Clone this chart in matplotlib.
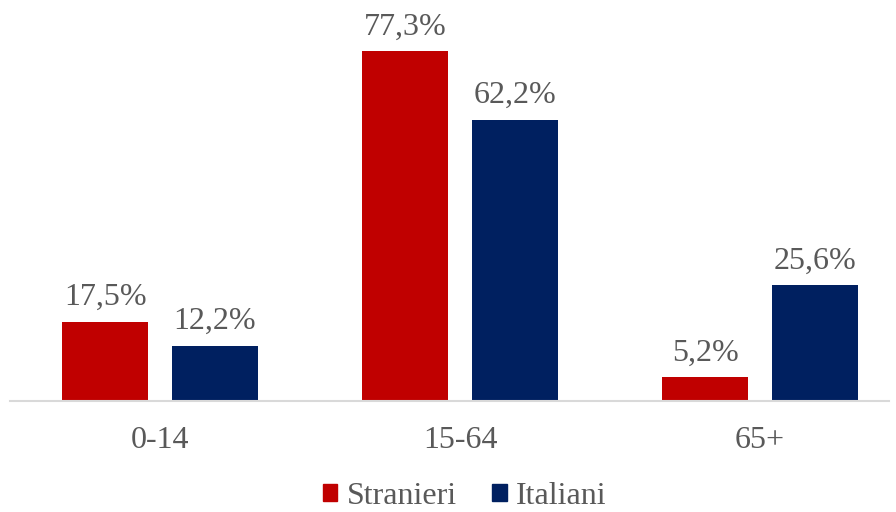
import numpy as np
import matplotlib.pyplot as plt
from matplotlib.patches import Patch

categorie = ['0-14', '15-64', '65+']
stranieri = [17.5, 77.3, 5.2]
italiani = [12.2, 62.2, 25.6]
serie = ['Stranieri', 'Italiani']

rosso = '#C00000'
blu = '#002060'
grigio = '#595959'

plt.rcParams['font.family'] = ['Liberation Serif', 'DejaVu Serif']

fig = plt.figure(figsize=(8.96, 5.12), dpi=100)
ax = fig.add_axes([10/896, 111/512, 879/896, 362/512])

x = np.arange(len(categorie))
w = 0.287
off = 0.183
b1 = ax.bar(x - off, stranieri, w, color=rosso)
b2 = ax.bar(x + off, italiani, w, color=blu)

for bars, vals in [(b1, stranieri), (b2, italiani)]:
    for b, v in zip(bars, vals):
        ax.annotate(('%.1f%%' % v).replace('.', ','),
                    (b.get_x() + b.get_width()/2, v),
                    xytext=(0, 7), textcoords='offset points',
                    ha='center', va='bottom', fontsize=23, color=grigio)

ax.set_xlim(-0.5, 2.43)
ax.set_ylim(0, 80)
ax.set_xticks(x)
ax.set_xticklabels(categorie, fontsize=23, color=grigio)
ax.tick_params(axis='x', length=0, pad=18)
ax.set_yticks([])
for s in ['top', 'right', 'left']:
    ax.spines[s].set_visible(False)
ax.spines['bottom'].set_color('#D9D9D9')
ax.spines['bottom'].set_linewidth(1.5)

handles = [Patch(color=rosso), Patch(color=blu)]
leg = fig.legend(handles, serie, loc='center', bbox_to_anchor=(465/896, 1 - 496/512),
                 ncol=2, frameon=False, fontsize=23, handlelength=0.45, handleheight=0.45,
                 handletextpad=0.3, columnspacing=1.1)
for t in leg.get_texts():
    t.set_color(grigio)

fig.savefig('out.png', dpi=100)
